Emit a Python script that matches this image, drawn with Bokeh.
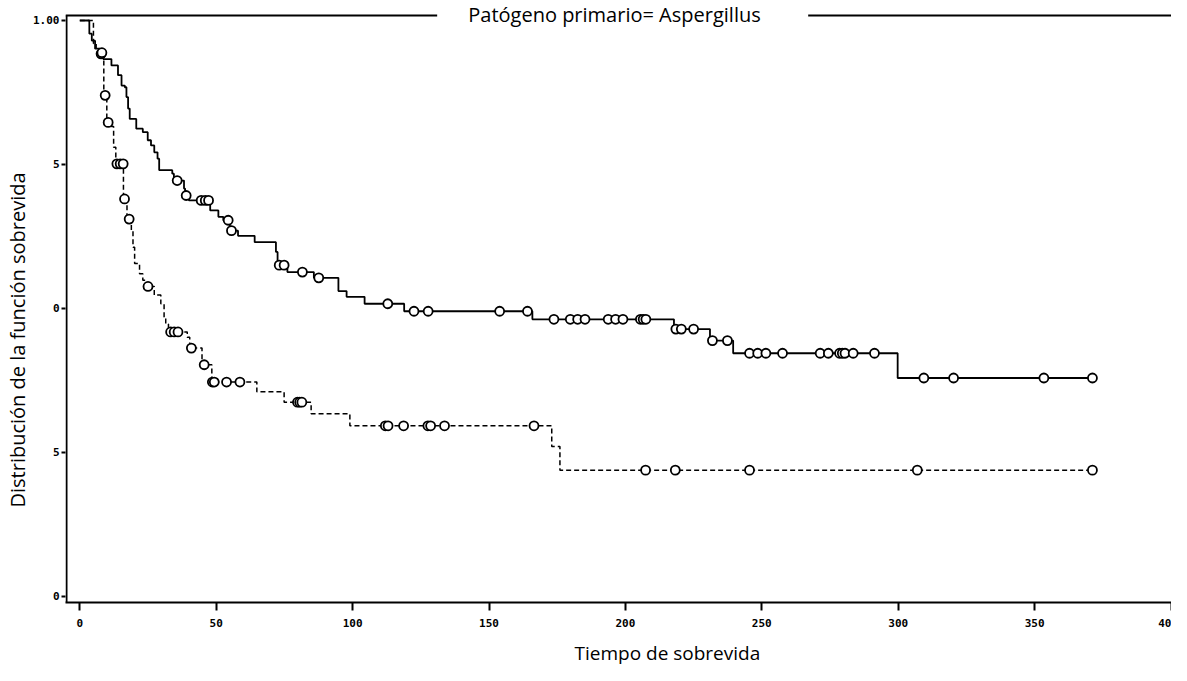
import numpy as np
from bokeh.plotting import figure
from bokeh.models import Range1d, FixedTicker, Label, Title
from bokeh.embed import file_html
from bokeh.resources import INLINE

# ---- data ----
# Group 1 (solid line): step times and survival
times1 = [0, 3.5, 4.4, 5.6, 7.4, 8.6, 11.6, 14.0, 15.3, 16.5, 17.1, 17.7, 18.3, 20.7, 23.1,
          24.9, 26.1, 27.3, 28.5, 29.1, 33.9, 34.5, 38.2, 38.6, 40.0, 47.8, 50.8, 52.6, 55.0,
          58.0, 64.1, 71.9, 72.5, 76.1, 85.8, 94.8, 97.8, 104.4, 118.9, 165.9, 217.8, 231.0,
          239.5, 299.8, 372.0]
surv1 = [1.0, 0.977, 0.965, 0.951, 0.942, 0.933, 0.922, 0.905, 0.887, 0.884, 0.867, 0.847,
         0.829, 0.812, 0.806, 0.792, 0.783, 0.771, 0.760, 0.740, 0.734, 0.722, 0.708, 0.696,
         0.6875, 0.670, 0.659, 0.653, 0.635, 0.626, 0.615, 0.598, 0.575, 0.563, 0.553, 0.530,
         0.520, 0.508, 0.495, 0.481, 0.464, 0.444, 0.422, 0.379, 0.379]
cens1 = [7.8, 35.7, 39.0, 44.5, 46.0, 47.2, 54.4, 55.6, 73.1, 74.9, 81.6, 87.6, 112.9, 122.5,
         127.7, 153.9, 164.1, 173.8, 179.8, 182.5, 185.2, 193.7, 196.4, 199.1, 205.5, 206.5,
         207.5, 218.5, 220.5, 225.0, 231.9, 237.4, 245.5, 248.5, 251.5, 257.6, 271.4, 274.4,
         278.5, 279.5, 280.5, 283.5, 291.3, 309.4, 320.3, 353.4, 371.2]

# Group 2 (dashed line)
times2 = [0, 5.0, 6.0, 7.0, 8.8, 9.9, 11.6, 12.4, 13.2, 16.0, 17.3, 18.9, 19.5, 20.1, 21.9,
          23.1, 24.0, 27.3, 29.7, 30.9, 31.5, 32.5, 39.4, 40.3, 44.8, 48.4, 64.9, 74.9, 84.8,
          99.0, 173.0, 176.0, 372.0]
surv2 = [1.0, 0.960, 0.950, 0.944, 0.870, 0.823, 0.816, 0.780, 0.751, 0.690, 0.655, 0.635,
         0.606, 0.578, 0.560, 0.549, 0.538, 0.523, 0.508, 0.485, 0.473, 0.459, 0.450, 0.431,
         0.402, 0.372, 0.355, 0.337, 0.317, 0.296, 0.260, 0.219, 0.219]
cens2 = [8.1, 9.3, 10.4, 13.6, 14.8, 15.9, 16.4, 18.1, 25.0, 33.3, 34.6, 36.0, 40.9, 45.6,
         48.6, 49.3, 53.8, 58.7, 79.8, 80.6, 81.4, 112.0, 113.0, 118.7, 127.6, 128.6, 133.7,
         166.5, 207.4, 218.3, 245.5, 307.0, 371.2]

x_ticks = [0, 50, 100, 150, 200, 250, 300, 350, 400]
x_tick_labels = {400: "40"}
y_ticks = [0, 0.25, 0.5, 0.75, 1.0]
y_tick_labels = {0: "0", 0.25: "5", 0.5: "0", 0.75: "5", 1.0: "1.00"}

title_text = "Patógeno primario= Aspergillus"
x_label = "Tiempo de sobrevida"
y_label = "Distribución de la función sobrevida"


def surv_at(times, surv, t):
    t_arr = np.asarray(times)
    idx = np.searchsorted(t_arr, np.asarray(t), side="right") - 1
    return list(np.asarray(surv)[idx])


X0, X1 = -5.24, 400.18
Y0, Y1 = -0.0109, 1.0347
Y_TOP = 1.0087          # level of the framing line at the top
X_GAP0, X_GAP1 = 131.0, 267.0   # gap in the top line around the title
FONT = "Open Sans"

p = figure(width=1171, height=665, output_backend="svg", toolbar_location=None,
           x_range=Range1d(X0, X1), y_range=Range1d(Y0, Y1),
           min_border_left=65, min_border_right=0, min_border_top=0, min_border_bottom=62)
p.outline_line_color = None
p.grid.grid_line_color = None
p.background_fill_color = "white"

for ax in (p.xaxis[0], p.yaxis[0]):
    ax.axis_line_width = 2
    ax.axis_line_color = "black"
    ax.major_tick_line_width = 2
    ax.major_tick_line_color = "black"
    ax.minor_tick_line_color = None
    ax.major_tick_in = 0
    ax.major_label_text_font = "DejaVu Sans Mono"
    ax.major_label_text_font_style = "bold"
    ax.major_label_text_font_size = "11px"
    ax.major_label_text_color = "black"

p.xaxis.ticker = FixedTicker(ticks=x_ticks)
p.xaxis.major_label_overrides = x_tick_labels
p.xaxis.major_tick_out = 8
p.xaxis.major_label_standoff = 8
p.yaxis.ticker = FixedTicker(ticks=y_ticks)
p.yaxis.major_label_overrides = y_tick_labels
p.yaxis.major_tick_out = 4
p.yaxis.major_label_standoff = 2
p.yaxis.axis_line_color = None

# y axis line stopping at the top framing line
p.segment(x0=[X0 + 0.37], y0=[Y0], x1=[X0 + 0.37], y1=[Y_TOP],
          line_color="black", line_width=2)

# curves
p.step(times1, surv1, mode="after", line_color="black", line_width=1.8)
p.step(times2, surv2, mode="after", line_color="black", line_width=1.5, line_dash="5 3")
p.scatter(cens1, surv_at(times1, surv1, cens1), marker="circle", size=9,
          line_color="black", line_width=1.8, fill_color="white")
p.scatter(cens2, surv_at(times2, surv2, cens2), marker="circle", size=9,
          line_color="black", line_width=1.8, fill_color="white")

# top border interrupted by the title
p.segment(x0=[X0, X_GAP1], y0=[Y_TOP, Y_TOP], x1=[X_GAP0, X1], y1=[Y_TOP, Y_TOP],
          line_color="black", line_width=2)
p.add_layout(Label(x=(X_GAP0 + X_GAP1) / 2 - 3, y=Y1, text=title_text, text_align="center",
                   text_baseline="top", text_font=FONT, text_font_size="20px",
                   text_color="black"))

# axis titles (a small blank spacer pushes the x title down)
p.add_layout(Title(text=" ", standoff=0, text_font_size="6px"), "below")
p.add_layout(Title(text=x_label, align="left", offset=509, standoff=0,
                   text_font=FONT, text_font_size="19px", text_font_style="normal",
                   text_color="black"), "below")
p.add_layout(Title(text=y_label, align="left", offset=95, standoff=0,
                   text_font=FONT, text_font_size="20px", text_font_style="normal",
                   text_color="black"), "left")

open("out.html", "w").write(file_html(p, INLINE))
